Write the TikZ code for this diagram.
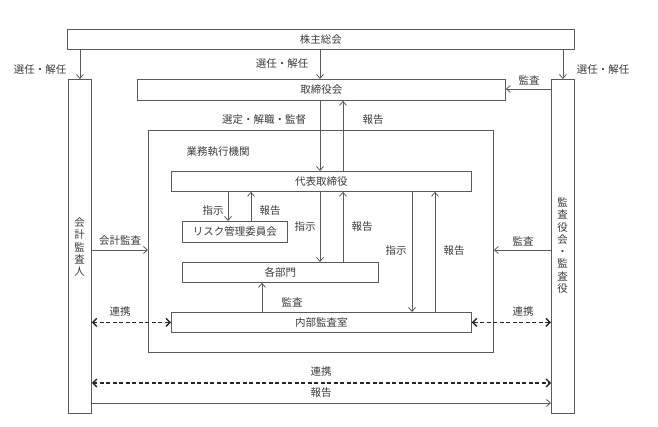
\documentclass[tikz,border=0pt]{standalone}
\usepackage{fontspec}
\setmainfont{Noto Sans CJK JP}
\usetikzlibrary{arrows.meta}
\definecolor{linegray}{HTML}{5A5A5A}
\definecolor{txtgray}{HTML}{3A3A3A}
\begin{document}
\begin{tikzpicture}[x=1pt,y=-1pt,
  box/.style 2 args={draw=linegray, line width=0.8pt, inner sep=0pt, anchor=north west,
    minimum width=#1pt, minimum height=#2pt, text=txtgray, font=\fontsize{10.5}{12}\selectfont},
  lbl/.style={text=txtgray, font=\fontsize{10.5}{12}\selectfont, inner sep=0pt},
  vlbl/.style={text=txtgray, font=\fontsize{10.5}{12.3}\selectfont, inner sep=0pt, align=center},
  arr/.style={draw=linegray, line width=0.8pt, -{Straight Barb[length=4pt,width=7pt]}},
  darr/.style={draw=black!85, line width=1.4pt, dash pattern=on 4pt off 2.5pt,
    {Straight Barb[length=4pt,width=8pt]}-{Straight Barb[length=4pt,width=8pt]}}
]
\useasboundingbox (0,0) rectangle (658,427);
% boxes
\node[box={507}{20}] (top) at (67,29) {株主総会};
\node[box={23}{334}] (acct) at (68,79) {};
\node[box={23}{334}] (aud) at (551,79) {};
\node[box={368}{21}] (board) at (137,79) {取締役会};
\node[box={345}{222}] (exec) at (148,130) {};
\node[box={300}{20}] (rep) at (171,171) {代表取締役};
\node[box={105}{21}] (risk) at (182,221) {リスク管理委員会};
\node[box={196}{20}] (dept) at (182,262) {各部門};
\node[box={300}{20}] (int) at (171,312) {内部監査室};
% vertical labels
\node[vlbl] (acctlbl) at (79.5,247) {会\\計\\監\\査\\人};
\node[vlbl] (audlbl) at (562.5,245.5) {監\\査\\役\\会\\・\\監\\査\\役};
% helper coordinates
\coordinate (cA) at (320,0);
\coordinate (cB) at (343,0);
\coordinate (cC) at (228,0);
\coordinate (cD) at (251,0);
\coordinate (cE) at (412,0);
\coordinate (cF) at (435,0);
\coordinate (cG) at (262,0);
\coordinate (rAud) at (0,89);
\coordinate (rAcc) at (0,250);
\coordinate (rB1) at (0,383);
\coordinate (rB2) at (0,403);
% arrows
\draw[arr] (top.south -| acct.north) -- (acct.north);
\draw[arr] (top.south -| aud.north) -- (aud.north);
\draw[arr] (top.south -| cA) -- (board.north -| cA);
\draw[arr] (aud.west |- rAud) -- (board.east |- rAud);
\draw[arr] (board.south -| cA) -- (rep.north -| cA);
\draw[arr] (rep.north -| cB) -- (board.south -| cB);
\draw[arr] (rep.south -| cC) -- (risk.north -| cC);
\draw[arr] (risk.north -| cD) -- (rep.south -| cD);
\draw[arr] (rep.south -| cA) -- (dept.north -| cA);
\draw[arr] (dept.north -| cB) -- (rep.south -| cB);
\draw[arr] (rep.south -| cE) -- (int.north -| cE);
\draw[arr] (int.north -| cF) -- (rep.south -| cF);
\draw[arr] (int.north -| cG) -- (dept.south -| cG);
\draw[arr] (acct.east |- rAcc) -- (exec.west |- rAcc);
\draw[arr] (aud.west |- rAcc) -- (exec.east |- rAcc);
\draw[darr] (acct.east |- int.west) -- (int.west);
\draw[darr] (aud.west |- int.east) -- (int.east);
\draw[darr] (acct.east |- rB1) -- (aud.west |- rB1);
\draw[arr] (acct.east |- rB2) -- (aud.west |- rB2);
% labels
\node[lbl] (l1) at (40,70) {選任・解任};
\node[lbl] (l2) at (282,64) {選任・解任};
\node[lbl] (l3) at (603,70) {選任・解任};
\node[lbl] (l4) at (529,80) {監査};
\node[lbl] (l5) at (264,120) {選定・解職・監督};
\node[lbl] (l6) at (373,120) {報告};
\node[lbl] (l7) at (218,152) {業務執行機関};
\node[lbl] (l8) at (213,211) {指示};
\node[lbl] (l9) at (270,211) {報告};
\node[lbl] (l10) at (305,227) {指示};
\node[lbl] (l11) at (362,227) {報告};
\node[lbl] (l12) at (396,251) {指示};
\node[lbl] (l13) at (454,251) {報告};
\node[lbl] (l14) at (120,241) {会計監査};
\node[lbl] (l15) at (523,241) {監査};
\node[lbl] (l16) at (292,302) {監査};
\node[lbl] (l17) at (120,312) {連携};
\node[lbl] (l18) at (523,312) {連携};
\node[lbl] (l19) at (321,372) {連携};
\node[lbl] (l20) at (321,393) {報告};
\end{tikzpicture}
\end{document}
